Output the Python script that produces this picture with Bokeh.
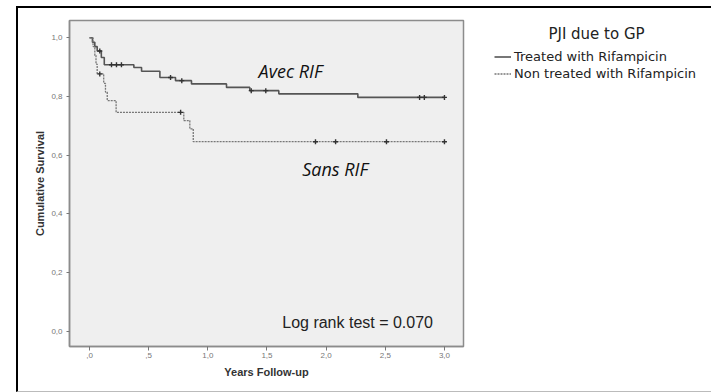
import numpy as np
from bokeh.plotting import figure
from bokeh.layouts import row
from bokeh.models import Label, Legend, LegendItem, FixedTicker, Range1d
from bokeh.embed import file_html
from bokeh.resources import INLINE

# ---- data ----
treated_t = [0.0, 0.025, 0.045, 0.065, 0.10, 0.125, 0.375, 0.44, 0.595, 0.727, 0.862, 1.158, 1.355, 1.60, 2.268, 3.0]
treated_s = [1.0, 0.985, 0.97, 0.955, 0.933, 0.908, 0.899, 0.886, 0.865, 0.854, 0.843, 0.831, 0.820, 0.809, 0.797, 0.797]
treated_cens = [0.087, 0.186, 0.228, 0.27, 0.685, 0.78, 1.367, 1.49, 2.79, 2.83, 3.0]

untreated_t = [0.0, 0.03, 0.045, 0.055, 0.065, 0.12, 0.135, 0.15, 0.225, 0.797, 0.848, 0.877, 3.0]
untreated_s = [1.0, 0.97, 0.94, 0.91, 0.877, 0.845, 0.815, 0.786, 0.746, 0.718, 0.69, 0.646, 0.646]
untreated_cens = [0.087, 0.77, 1.91, 2.08, 2.51, 3.0]

series_names = ["Treated with Rifampicin", "Non treated with Rifampicin"]
legend_title = "PJI due to GP"

x_ticks = [0, 0.5, 1, 1.5, 2, 2.5, 3]
x_tick_labels = [",0", ",5", "1,0", "1,5", "2,0", "2,5", "3,0"]
y_ticks = [0, 0.2, 0.4, 0.6, 0.8, 1.0]
y_tick_labels = ["0,0", "0,2", "0,4", "0,6", "0,8", "1,0"]

SOLID = dict(line_color="#555555", line_width=1.6)
DOTTED = dict(line_color="#777777", line_width=1.3, line_dash="2 1")


def surv_at(t, s, c):
    t = np.asarray(t)
    s = np.asarray(s)
    idx = np.searchsorted(t, np.asarray(c), side="right") - 1
    return s[idx]


H = 383
p = figure(width=447, height=H, output_backend="svg", toolbar_location=None,
           x_range=Range1d(-0.169, 3.161), y_range=Range1d(-0.052, 1.059),
           min_border_left=51, min_border_top=12, min_border_right=2, min_border_bottom=45)
p.background_fill_color = "#efefef"
p.border_fill_color = "white"
p.outline_line_color = "#8c8c8c"
p.outline_line_width = 1.5
p.grid.visible = False

# axes
p.xaxis.ticker = FixedTicker(ticks=x_ticks)
p.yaxis.ticker = FixedTicker(ticks=y_ticks)
p.xaxis.major_label_overrides = dict(zip([float(v) for v in x_ticks], x_tick_labels))
p.yaxis.major_label_overrides = dict(zip([float(v) for v in y_ticks], y_tick_labels))
for ax in (p.xaxis[0], p.yaxis[0]):
    ax.axis_line_color = "#8c8c8c"
    ax.axis_line_width = 1.5
    ax.major_tick_line_color = "#777777"
    ax.minor_tick_line_color = None
    ax.major_tick_in = 0
    ax.major_label_text_font = "Liberation Sans"
    ax.major_label_text_font_size = "8px"
    ax.major_label_text_color = "#777777"
    ax.axis_label_text_font = "Liberation Sans"
    ax.axis_label_text_font_style = "bold"
    ax.axis_label_text_font_size = "11px"
    ax.axis_label_text_color = "#333333"
p.xaxis.major_tick_out = 4
p.yaxis.major_tick_out = 3
p.xaxis.major_label_standoff = 2
p.yaxis.major_label_standoff = 4
p.xaxis.axis_label = "Years Follow-up"
p.yaxis.axis_label = "Cumulative Survival"
p.xaxis.axis_label_standoff = 5
p.yaxis.axis_label_standoff = 2

# curves
p.step(treated_t, treated_s, mode="after", **SOLID)
p.step(untreated_t, untreated_s, mode="after", **DOTTED)
p.scatter(treated_cens, surv_at(treated_t, treated_s, treated_cens), marker="cross",
          size=5, line_color="#333333", line_width=1.4)
p.scatter(untreated_cens, surv_at(untreated_t, untreated_s, untreated_cens), marker="cross",
          size=5, line_color="#333333", line_width=1.4)

# annotations
p.add_layout(Label(x=1.429, y=0.888, text="Avec RIF", text_font="Open Sans",
                   text_font_style="italic", text_font_size="18px",
                   text_baseline="middle", text_color="#111111"))
p.add_layout(Label(x=1.798, y=0.554, text="Sans RIF", text_font="Open Sans",
                   text_font_style="italic", text_font_size="18px",
                   text_baseline="middle", text_color="#111111"))
p.add_layout(Label(x=1.629, y=0.031, text="Log rank test = 0.070", text_font="Liberation Sans",
                   text_font_size="16px", text_baseline="middle", text_color="#222222"))

# legend panel (separate figure, same top/bottom borders as the chart)
WB = 246
FH = H - 12 - 45
q = figure(width=WB, height=H, output_backend="svg", toolbar_location=None,
           x_range=Range1d(0, WB), y_range=Range1d(FH, 0),
           x_axis_type=None, y_axis_type=None,
           min_border_left=0, min_border_right=0, min_border_top=12, min_border_bottom=45)
q.outline_line_color = None
q.background_fill_color = "white"
q.border_fill_color = "white"
q.grid.visible = False
g1 = q.step([-100, -90], [-100, -100], mode="after", **SOLID)
g2 = q.step([-100, -90], [-100, -100], mode="after", **DOTTED)
legend = Legend(items=[LegendItem(label=series_names[0], renderers=[g1]),
                       LegendItem(label=series_names[1], renderers=[g2])],
                location="top_left", padding=0, margin=29, spacing=2,
                label_height=13, glyph_height=13, glyph_width=17, label_standoff=3,
                label_text_font="DejaVu Sans", label_text_font_size="13px",
                label_text_color="#222222", background_fill_alpha=0,
                border_line_color=None)
q.add_layout(legend)
q.add_layout(Label(x=131, y=13, text=legend_title, text_font="DejaVu Sans",
                   text_font_size="15px", text_align="center", text_baseline="middle",
                   text_color="#222222"))

layout = row(p, q, styles={"margin-left": "16px", "margin-top": "6px",
                           "border-top": "2px solid #000000",
                           "border-left": "2px solid #000000",
                           "border-right": "none",
                           "border-bottom": "1px solid #bbbbbb"})

open("out.html", "w").write(file_html(layout, INLINE))
